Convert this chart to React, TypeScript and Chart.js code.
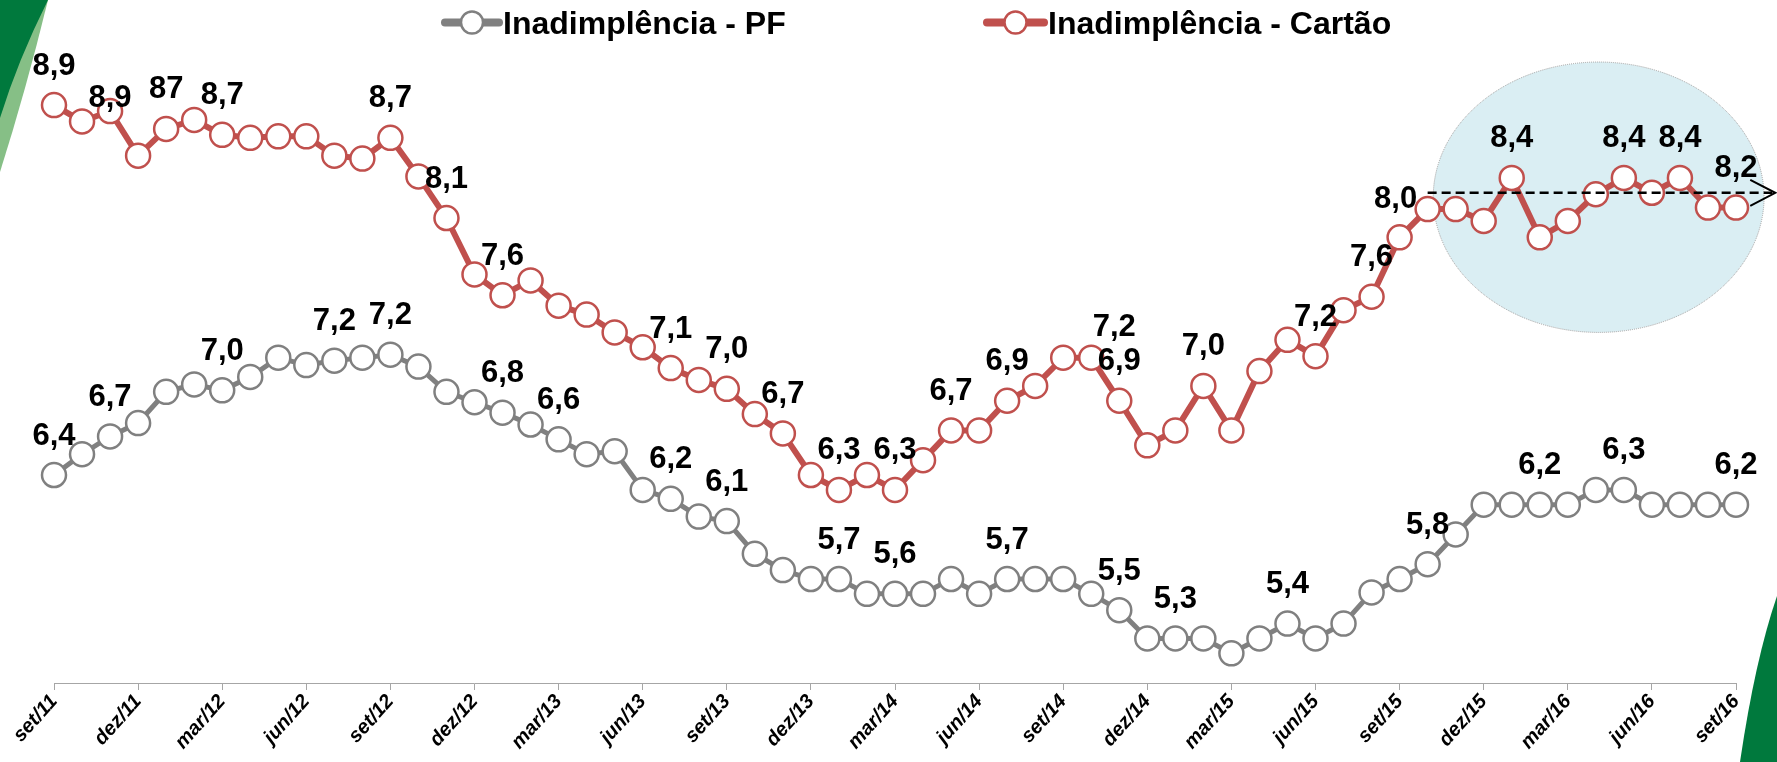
import { useEffect, useRef } from 'react';
import { Chart, registerables } from 'chart.js';

Chart.register(...registerables);

// ---- data ----
const MONTHS = [
  'set/11', 'out/11', 'nov/11', 'dez/11',
  'jan/12', 'fev/12', 'mar/12', 'abr/12', 'mai/12', 'jun/12', 'jul/12', 'ago/12', 'set/12', 'out/12', 'nov/12', 'dez/12',
  'jan/13', 'fev/13', 'mar/13', 'abr/13', 'mai/13', 'jun/13', 'jul/13', 'ago/13', 'set/13', 'out/13', 'nov/13', 'dez/13',
  'jan/14', 'fev/14', 'mar/14', 'abr/14', 'mai/14', 'jun/14', 'jul/14', 'ago/14', 'set/14', 'out/14', 'nov/14', 'dez/14',
  'jan/15', 'fev/15', 'mar/15', 'abr/15', 'mai/15', 'jun/15', 'jul/15', 'ago/15', 'set/15', 'out/15', 'nov/15', 'dez/15',
  'jan/16', 'fev/16', 'mar/16', 'abr/16', 'mai/16', 'jun/16', 'jul/16', 'ago/16', 'set/16',
];

const PF = [
  6.40, 6.54, 6.66, 6.75, 6.96, 7.01, 6.97, 7.06, 7.19, 7.14, 7.17, 7.19, 7.21, 7.13, 6.96, 6.89,
  6.82, 6.74, 6.64, 6.54, 6.56, 6.30, 6.24, 6.12, 6.09, 5.87, 5.76, 5.70, 5.70, 5.60, 5.60, 5.60,
  5.70, 5.60, 5.70, 5.70, 5.70, 5.60, 5.49, 5.30, 5.30, 5.30, 5.20, 5.30, 5.40, 5.30, 5.40, 5.61,
  5.70, 5.80, 6.00, 6.20, 6.20, 6.20, 6.20, 6.30, 6.30, 6.20, 6.20, 6.20, 6.20,
];

const CARTAO = [
  8.89, 8.78, 8.85, 8.55, 8.73, 8.79, 8.69, 8.67, 8.68, 8.68, 8.55, 8.53, 8.67, 8.41, 8.13, 7.75,
  7.61, 7.71, 7.54, 7.48, 7.36, 7.26, 7.12, 7.04, 6.98, 6.81, 6.68, 6.40, 6.30, 6.40, 6.30, 6.50,
  6.70, 6.70, 6.90, 7.00, 7.19, 7.19, 6.90, 6.60, 6.70, 7.00, 6.70, 7.10, 7.31, 7.20, 7.51, 7.60,
  8.00, 8.19, 8.19, 8.11, 8.40, 8.00, 8.11, 8.29, 8.40, 8.30, 8.40, 8.20, 8.20,
];

const PF_LABEL_IDX = [0, 2, 6, 10, 12, 16, 18, 22, 24, 28, 30, 34, 38, 40, 44, 49, 53, 56, 60];
const PF_LABEL_TXT = ['6,4', '6,7', '7,0', '7,2', '7,2', '6,8', '6,6', '6,2', '6,1', '5,7', '5,6', '5,7', '5,5', '5,3', '5,4', '5,8', '6,2', '6,3', '6,2'];

const CARTAO_LABEL_IDX = [0, 2, 4, 6, 12, 14, 16, 22, 24, 26, 28, 30, 32, 34, 37, 38, 41, 45, 47, 48, 52, 56, 58, 60];
const CARTAO_LABEL_TXT = ['8,9', '8,9', '87', '8,7', '8,7', '8,1', '7,6', '7,1', '7,0', '6,7', '6,3', '6,3', '6,7', '6,9', '7,2', '6,9', '7,0', '7,2', '7,6', '8,0', '8,4', '8,4', '8,4', '8,2'];

const SERIES_NAMES = ['Inadimplência - PF', 'Inadimplência - Cartão'];

// highlight annotation (in data units: month index / percentage)
const HIGHLIGHT_CENTER = { idx: 55.1, val: 8.27 };
const HIGHLIGHT_RADIUS = { idx: 5.9, val: 0.91 };
const TREND = { fromIdx: 49, toIdx: 61.4, level: 8.3 };

// ---- styles ----
const GRAY = '#808080';
const RED = '#C0504D';
const FONT = '"Liberation Sans", Arial, sans-serif';

const LABEL_OFFSET_DEFAULT: [number, number] = [0, -41.5];
const LABEL_OFFSET_SPECIAL: Record<string, [number, number]> = {
  '1:2': [0, -15],
  '1:37': [23, -33],
  '1:48': [-4, -40],
};

const decoPlugin = {
  id: 'deco',
  beforeDraw(chart: any) {
    const { ctx, width, height } = chart;
    ctx.save();
    ctx.fillStyle = '#fff';
    ctx.fillRect(0, 0, width, height);
    // top-left slide decoration
    ctx.fillStyle = '#86BF86';
    ctx.beginPath();
    ctx.moveTo(0, 0);
    ctx.lineTo(48, 0);
    ctx.quadraticCurveTo(26, 90, 0, 172);
    ctx.closePath();
    ctx.fill();
    ctx.fillStyle = '#00793D';
    ctx.beginPath();
    ctx.moveTo(0, 0);
    ctx.lineTo(48, 0);
    ctx.quadraticCurveTo(18, 60, 0, 118);
    ctx.closePath();
    ctx.fill();
    // bottom-right slide decoration
    ctx.fillStyle = '#00793D';
    ctx.beginPath();
    ctx.moveTo(width, 596);
    ctx.quadraticCurveTo(width - 22, 660, width - 37, height);
    ctx.lineTo(width, height);
    ctx.closePath();
    ctx.fill();
    ctx.restore();
  },
  beforeDatasetsDraw(chart: any) {
    const { ctx } = chart;
    const xs = chart.scales.x;
    const ys = chart.scales.y;
    const cx = xs.getPixelForValue(HIGHLIGHT_CENTER.idx);
    const cy = ys.getPixelForValue(HIGHLIGHT_CENTER.val);
    const rx = xs.getPixelForValue(HIGHLIGHT_CENTER.idx + HIGHLIGHT_RADIUS.idx) - cx;
    const ry = cy - ys.getPixelForValue(HIGHLIGHT_CENTER.val + HIGHLIGHT_RADIUS.val);
    ctx.save();
    ctx.beginPath();
    ctx.ellipse(cx, cy, rx, ry, 0, 0, Math.PI * 2);
    ctx.fillStyle = '#DAEEF3';
    ctx.fill();
    ctx.setLineDash([1, 1]);
    ctx.lineWidth = 1;
    ctx.strokeStyle = '#A0A0A0';
    ctx.stroke();
    ctx.restore();
  },
  afterDatasetsDraw(chart: any) {
    const { ctx } = chart;
    ctx.save();
    ctx.font = `bold 31px ${FONT}`;
    ctx.fillStyle = '#000';
    ctx.textAlign = 'center';
    ctx.textBaseline = 'alphabetic';
    const sets = [
      [PF_LABEL_IDX, PF_LABEL_TXT],
      [CARTAO_LABEL_IDX, CARTAO_LABEL_TXT],
    ];
    sets.forEach(([idxs, txts]: any, di: number) => {
      const meta = chart.getDatasetMeta(di);
      idxs.forEach((i: number, k: number) => {
        const pt = meta.data[i];
        if (!pt) return;
        const off = LABEL_OFFSET_SPECIAL[`${di}:${i}`] || LABEL_OFFSET_DEFAULT;
        ctx.fillText(txts[k], pt.x + off[0], pt.y + off[1] + 11);
      });
    });
    ctx.restore();
  },
  afterDraw(chart: any) {
    const { ctx } = chart;
    const xs = chart.scales.x;
    const ys = chart.scales.y;
    // dashed trend arrow
    const x1 = xs.getPixelForValue(TREND.fromIdx);
    const x2 = xs.getPixelForValue(TREND.toIdx);
    const y = ys.getPixelForValue(TREND.level);
    ctx.save();
    ctx.strokeStyle = '#000';
    ctx.lineWidth = 2.5;
    ctx.setLineDash([9, 5]);
    ctx.beginPath();
    ctx.moveTo(x1, y);
    ctx.lineTo(x2 - 3, y);
    ctx.stroke();
    ctx.setLineDash([]);
    ctx.lineWidth = 2;
    ctx.beginPath();
    ctx.moveTo(x2 - 25, y - 13);
    ctx.lineTo(x2, y);
    ctx.lineTo(x2 - 25, y + 13);
    ctx.stroke();

    // legend
    const items = [
      { color: GRAY, x0: 445, x1: 499, name: SERIES_NAMES[0] },
      { color: RED, x0: 987, x1: 1044, name: SERIES_NAMES[1] },
    ];
    const ly = 22.5;
    items.forEach((it) => {
      ctx.strokeStyle = it.color;
      ctx.lineWidth = 8;
      ctx.lineCap = 'round';
      ctx.beginPath();
      ctx.moveTo(it.x0, ly);
      ctx.lineTo(it.x1, ly);
      ctx.stroke();
      ctx.beginPath();
      ctx.arc((it.x0 + it.x1) / 2, ly, 11, 0, Math.PI * 2);
      ctx.fillStyle = '#fff';
      ctx.fill();
      ctx.lineWidth = 2.5;
      ctx.stroke();
      ctx.fillStyle = '#000';
      ctx.font = `bold 32px ${FONT}`;
      ctx.textAlign = 'left';
      ctx.textBaseline = 'alphabetic';
      ctx.fillText(it.name, it.x1 + 4, ly + 11.5);
    });
    ctx.restore();
  },
};

export default function App() {
  const ref = useRef<HTMLCanvasElement | null>(null);

  useEffect(() => {
    document.body.style.margin = '0';
    const canvas = ref.current;
    if (!canvas) return;
    const chart = new Chart(canvas, {
      type: 'line',
      data: {
        labels: MONTHS,
        datasets: [
          {
            label: SERIES_NAMES[0],
            data: PF,
            borderColor: GRAY,
            borderWidth: 5,
            pointRadius: 12,
            pointBorderWidth: 2.5,
            pointBackgroundColor: '#fff',
            pointBorderColor: GRAY,
            tension: 0,
            clip: false,
          },
          {
            label: SERIES_NAMES[1],
            data: CARTAO,
            borderColor: RED,
            borderWidth: 6,
            pointRadius: 12,
            pointBorderWidth: 2.5,
            pointBackgroundColor: '#fff',
            pointBorderColor: RED,
            tension: 0,
            clip: false,
          },
        ],
      },
      options: {
        responsive: false,
        animation: false,
        events: [],
        layout: { padding: { left: 54, right: 41, top: 13, bottom: 0 } },
        plugins: {
          legend: { display: false },
          tooltip: { enabled: false },
          title: { display: false },
        },
        scales: {
          x: {
            type: 'category',
            offset: false,
            afterFit: (scale: any) => {
              scale.height = 79;
            },
            border: { display: true, color: '#A6A6A6', width: 1, dash: [2, 1] },
            grid: {
              display: true,
              drawOnChartArea: false,
              drawTicks: true,
              tickLength: 7,
              color: (c: any) => (c.index % 3 === 0 ? '#A6A6A6' : 'rgba(0,0,0,0)'),
            },
            ticks: {
              autoSkip: false,
              maxRotation: 48,
              minRotation: 48,
              padding: 0,
              color: '#000',
              font: { family: FONT, size: 20, weight: 'bold', style: 'italic' },
              callback: (_v: any, i: number) => (i % 3 === 0 ? MONTHS[i] : ''),
            },
          },
          y: {
            display: false,
            min: 5,
            max: 9.5,
          },
        },
      },
      plugins: [decoPlugin],
    });
    return () => chart.destroy();
  }, []);

  return (
    <div style={{ width: 1777, height: 762, position: 'relative' }}>
      <canvas ref={ref} width={1777} height={762} style={{ display: 'block' }} />
    </div>
  );
}
